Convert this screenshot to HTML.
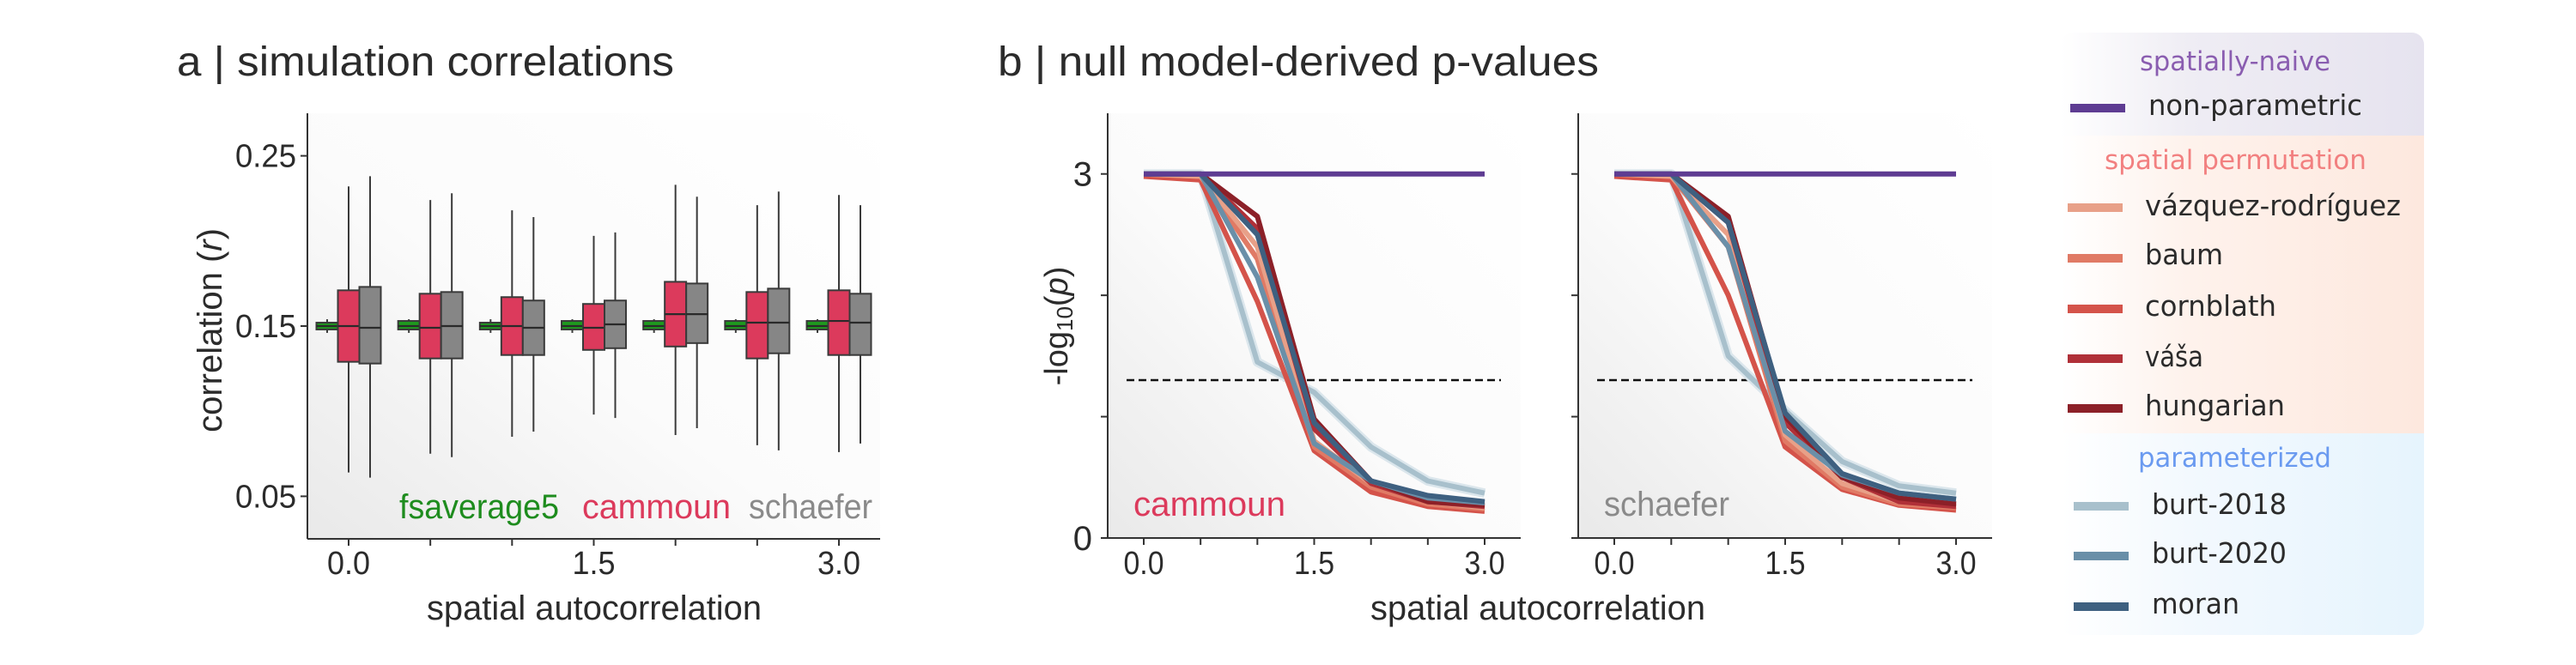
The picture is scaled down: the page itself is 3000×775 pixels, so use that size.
<!DOCTYPE html>
<html><head><meta charset="utf-8"><style>
html,body{margin:0;padding:0;background:#fff;}
svg{display:block;}
text{font-family:"Liberation Sans",sans-serif;fill:#2b2b2b;}
.leg{font-family:"DejaVu Sans","Liberation Sans",sans-serif;}
</style></head><body>
<svg id="fig" width="3000" height="775" viewBox="0 0 3000 775" xmlns="http://www.w3.org/2000/svg">
<defs>
<linearGradient id="axbg" x1="1" y1="0" x2="0" y2="1">
<stop offset="0" stop-color="#ffffff"/><stop offset="0.55" stop-color="#fbfbfb"/><stop offset="1" stop-color="#e9e9e9"/>
</linearGradient>
<linearGradient id="lgP" x1="0" y1="0" x2="1" y2="0"><stop offset="0" stop-color="#fff"/><stop offset="0.35" stop-color="#efedf4"/><stop offset="1" stop-color="#e6e3ef"/></linearGradient>
<linearGradient id="lgO" x1="0" y1="0" x2="1" y2="0"><stop offset="0" stop-color="#fff"/><stop offset="0.35" stop-color="#fef2ec"/><stop offset="1" stop-color="#fde8de"/></linearGradient>
<linearGradient id="lgB" x1="0" y1="0" x2="1" y2="0"><stop offset="0" stop-color="#fff"/><stop offset="0.35" stop-color="#f3f9fe"/><stop offset="1" stop-color="#e6f4fd"/></linearGradient>
<clipPath id="lgclip"><rect x="2400" y="38" width="423" height="702" rx="14"/></clipPath>
</defs>
<g id="pa"></g>
<g id="pb"></g>
<g id="legend"></g>
</svg>
<script>
const NS='http://www.w3.org/2000/svg';
// ---------- Panel A data ----------
const aGroups=[0,0.5,1.0,1.5,2.0,2.5,3.0];
const aYTicks=[0.05,0.15,0.25];
const aYTickLabels=['0.05','0.15','0.25'];
const aXTicks=[0,1.5,3.0];
const aXTickLabels=['0.0','1.5','3.0'];
// [low, q1, median, q3, high]
const fsavStats=[[0.146,0.148,0.150,0.152,0.154],[0.146,0.148,0.150,0.153,0.154],[0.146,0.148,0.150,0.152,0.154],[0.146,0.148,0.150,0.153,0.154],[0.146,0.148,0.150,0.153,0.154],[0.146,0.148,0.150,0.153,0.154],[0.146,0.148,0.150,0.153,0.154]];
const cammounStats=[[0.064,0.129,0.150,0.171,0.232],[0.075,0.131,0.149,0.169,0.224],[0.085,0.133,0.150,0.167,0.218],[0.098,0.136,0.149,0.163,0.203],[0.086,0.138,0.157,0.176,0.233],[0.080,0.131,0.152,0.170,0.221],[0.076,0.133,0.153,0.171,0.227]];
const schaeferStats=[[0.061,0.128,0.149,0.173,0.238],[0.073,0.131,0.150,0.170,0.228],[0.088,0.133,0.149,0.165,0.214],[0.096,0.137,0.151,0.165,0.205],[0.090,0.140,0.157,0.175,0.226],[0.077,0.134,0.152,0.172,0.229],[0.081,0.133,0.152,0.169,0.221]];
// ---------- Panel B data ----------
const bX=[0,0.5,1.0,1.5,2.0,2.5,3.0];
const bYTicks=[0,1,2,3];
const bYTickLabels=['0','','','3'];
const bXTicks=[0,0.5,1.0,1.5,2.0,2.5,3.0];
const bXTickLabels=['0.0','','','1.5','','','3.0'];
const threshold=1.301;
const methods=['non-parametric','vázquez-rodríguez','baum','cornblath','váša','hungarian','burt-2018','burt-2020','moran'];
const cammounP={
'non-parametric':[3,3,3,3,3,3,3],
'vázquez-rodríguez':[3,2.98,2.4,0.8,0.45,0.3,0.25],
'baum':[3,2.98,2.3,0.75,0.42,0.28,0.24],
'cornblath':[2.98,2.95,1.95,0.72,0.38,0.26,0.22],
'váša':[3,3,2.55,0.9,0.45,0.3,0.26],
'hungarian':[3,3,2.65,0.98,0.47,0.3,0.27],
'burt-2018':[3,3,1.45,1.2,0.75,0.47,0.37],
'burt-2020':[3,3,2.15,0.78,0.47,0.33,0.29],
'moran':[3,3,2.5,0.95,0.47,0.35,0.3]};
const schaeferP={
'non-parametric':[3,3,3,3,3,3,3],
'vázquez-rodríguez':[3,2.98,2.5,0.85,0.45,0.3,0.27],
'baum':[3,2.98,2.4,0.8,0.42,0.28,0.25],
'cornblath':[2.98,2.95,2.0,0.75,0.4,0.27,0.23],
'váša':[3,3,2.6,0.95,0.5,0.3,0.26],
'hungarian':[3,3,2.65,1.0,0.5,0.33,0.28],
'burt-2018':[3,3,1.5,1.05,0.63,0.43,0.37],
'burt-2020':[3,3,2.4,0.88,0.52,0.37,0.32],
'moran':[3,3,2.6,1.03,0.53,0.37,0.32]};
const colors={'non-parametric':'#5e3c92','vázquez-rodríguez':'#e8a088','baum':'#e07a65','cornblath':'#d4534a','váša':'#b03038','hungarian':'#8c2028','burt-2018':'#a8c0cc','burt-2020':'#6a8fa8','moran':'#3e6080'};
const drawOrder=['burt-2018','cornblath','baum','vázquez-rodríguez','váša','hungarian','burt-2020','moran','non-parametric'];

function el(parent,tag,attrs,text){const e=document.createElementNS(NS,tag);for(const k in attrs)e.setAttribute(k,attrs[k]);if(text!==undefined)e.textContent=text;parent.appendChild(e);return e;}
function slug(s){return s.normalize('NFD').replace(/[\u0300-\u036f]/g,'').replace(/[^a-z0-9]+/gi,'-').toLowerCase();}

// ---------- Panel A ----------
const pa=document.getElementById('pa');
const aL=358,aR=1025,aT=132,aB=628;
const ay=v=>aT+(0.275-v)/(0.275-0.025)*(aB-aT);
const ax=v=>406+(v-0)/(3.0)*(977-406);
let t;
t=el(pa,'text',{x:206,y:88,'font-size':48,textLength:579,lengthAdjust:'spacingAndGlyphs'},'a | simulation correlations');

t=el(pa,'rect',{x:aL,y:aT,width:aR-aL,height:aB-aT,fill:'url(#axbg)'});

const boxW=25;
function drawBox(g,cx,s,fill,name){
  const gg=el(g,'g',{});
  
  el(gg,'line',{x1:cx,x2:cx,y1:ay(s[4]),y2:ay(s[0]),stroke:'#3a3a3a','stroke-width':2});
  if(name.indexOf('fsaverage')===0){el(gg,'line',{x1:cx-5,x2:cx+5,y1:ay(s[4]),y2:ay(s[4]),stroke:'#3a3a3a','stroke-width':0});}
  el(gg,'rect',{x:cx-boxW/2,y:ay(s[3]),width:boxW,height:ay(s[1])-ay(s[3]),fill:fill,stroke:'#3a3a3a','stroke-width':2});
  el(gg,'line',{x1:cx-boxW/2,x2:cx+boxW/2,y1:ay(s[2]),y2:ay(s[2]),stroke:'#2a2a2a','stroke-width':2.2});
}
aGroups.forEach((gv,i)=>{
  const c=ax(gv);
  drawBox(pa,c-25,fsavStats[i],'#1e9a1e','fsaverage5-box-'+i);
  drawBox(pa,c,cammounStats[i],'#dc3a5c','cammoun-box-'+i);
  drawBox(pa,c+25,schaeferStats[i],'#868686','schaefer-box-'+i);
});
t=el(pa,'line',{x1:aL,x2:aL,y1:aT,y2:aB,stroke:'#333','stroke-width':2});

t=el(pa,'line',{x1:aL,x2:aR,y1:aB,y2:aB,stroke:'#333','stroke-width':2});

aYTicks.forEach((v,i)=>{
  el(pa,'line',{x1:aL-8,x2:aL,y1:ay(v),y2:ay(v),stroke:'#333','stroke-width':2});
  const tt=el(pa,'text',{x:345,y:ay(v)+13,'font-size':38,'text-anchor':'end',textLength:71,lengthAdjust:'spacingAndGlyphs'},aYTickLabels[i]);
  
});
aGroups.forEach(v=>{el(pa,'line',{x1:ax(v),x2:ax(v),y1:aB,y2:aB+8,stroke:'#333','stroke-width':2});});
aXTicks.forEach((v,i)=>{
  const tt=el(pa,'text',{x:ax(v),y:669,'font-size':38,'text-anchor':'middle',textLength:50,lengthAdjust:'spacingAndGlyphs'},aXTickLabels[i]);
  
});
t=el(pa,'text',{x:0,y:0,'font-size':40,'text-anchor':'middle',transform:'translate(258,385) rotate(-90)'});

t.appendChild(document.createTextNode('correlation ('));
el(t,'tspan',{'font-style':'italic'},'r');
t.appendChild(document.createTextNode(')'));
t=el(pa,'text',{x:497,y:722,'font-size':40,textLength:390,lengthAdjust:'spacingAndGlyphs'},'spatial autocorrelation');

t=el(pa,'text',{x:465,y:604,'font-size':40,fill:'#1e8c1e',style:'fill:#1e8c1e',textLength:186,lengthAdjust:'spacingAndGlyphs'},'fsaverage5');

t=el(pa,'text',{x:678,y:604,'font-size':40,style:'fill:#dc3a5c',textLength:173,lengthAdjust:'spacingAndGlyphs'},'cammoun');

t=el(pa,'text',{x:872,y:604,'font-size':40,style:'fill:#8a8a8a',textLength:144,lengthAdjust:'spacingAndGlyphs'},'schaefer');


// ---------- Panel B ----------
const pb=document.getElementById('pb');
t=el(pb,'text',{x:1162,y:88,'font-size':48,textLength:700,lengthAdjust:'spacingAndGlyphs'},'b | null model-derived p-values');

const bT=132,bB=627;
const by=v=>bB-v/3.5*(bB-bT);
function drawSub(name,L,R,x0,x3,data,label,labelColor,labelLen,showYLabels){
  const g=el(pb,'g',{});
  
  const bx=v=>x0+v/3*(x3-x0);
  el(g,'rect',{x:L,y:bT,width:R-L,height:bB-bT,fill:'url(#axbg)'});
  const thr=el(g,'line',{x1:L+22,x2:R-23,y1:by(threshold),y2:by(threshold),stroke:'#111','stroke-width':2.5,'stroke-dasharray':'9,5'});
  
  drawOrder.forEach(m=>{
    const pts=bX.map((x,i)=>bx(x).toFixed(1)+','+by(data[m][i]).toFixed(1)).join(' ');
    if(m==='burt-2018'){el(g,'polyline',{points:pts,fill:'none',stroke:'#dbe6ec','stroke-width':11,'stroke-linejoin':'round'});}
    const p=el(g,'polyline',{points:pts,fill:'none',stroke:colors[m],'stroke-width':6,'stroke-linejoin':'round'});
    
  });
  el(g,'line',{x1:L,x2:L,y1:bT,y2:bB,stroke:'#333','stroke-width':2});
  el(g,'line',{x1:L,x2:R,y1:bB,y2:bB,stroke:'#333','stroke-width':2});
  bYTicks.forEach((v,i)=>{
    el(g,'line',{x1:L-8,x2:L,y1:by(v),y2:by(v),stroke:'#333','stroke-width':2});
    if(showYLabels&&bYTickLabels[i]){const tt=el(g,'text',{x:L-18,y:by(v)+14,'font-size':40,'text-anchor':'end'},bYTickLabels[i]);
      }
  });
  bXTicks.forEach((v,i)=>{
    el(g,'line',{x1:bx(v),x2:bx(v),y1:bB,y2:bB+8,stroke:'#333','stroke-width':2});
    if(bXTickLabels[i]){const tt=el(g,'text',{x:bx(v),y:669,'font-size':38,'text-anchor':'middle',textLength:47,lengthAdjust:'spacingAndGlyphs'},bXTickLabels[i]);
      }
  });
  const lt=el(g,'text',{x:L+30,y:601,'font-size':40,style:'fill:'+labelColor,textLength:labelLen,lengthAdjust:'spacingAndGlyphs'},label);
  
}
drawSub('subplot-cammoun',1290,1771,1332,1729,cammounP,'cammoun','#dc3a5c',177,true);
drawSub('subplot-schaefer',1838,2320,1880,2278,schaeferP,'schaefer','#8a8a8a',146,false);
t=el(pb,'text',{x:0,y:0,'font-size':38,'text-anchor':'middle',transform:'translate(1243,380) rotate(-90)'});

t.appendChild(document.createTextNode('-log'));
el(t,'tspan',{'font-size':26,dy:6},'10');
el(t,'tspan',{dy:-6},'(');
el(t,'tspan',{'font-style':'italic'},'p');
t.appendChild(document.createTextNode(')'));
t=el(pb,'text',{x:1596,y:722,'font-size':40,textLength:390,lengthAdjust:'spacingAndGlyphs'},'spatial autocorrelation');


// ---------- Legend ----------
const lg=document.getElementById('legend');
const lgc=el(lg,'g',{'clip-path':'url(#lgclip)'});
el(lgc,'rect',{x:2400,y:38,width:423,height:120,fill:'url(#lgP)'});
el(lgc,'rect',{x:2400,y:158,width:423,height:347,fill:'url(#lgO)'});
el(lgc,'rect',{x:2400,y:505,width:423,height:235,fill:'url(#lgB)'});
const headers=[['spatially-naive',2492,82,222,'#8a5db0'],['spatial permutation',2451,197,305,'#f28080'],['parameterized',2490,544,225,'#6a9af0']];
headers.forEach(h=>{const tt=el(lg,'text',{class:'leg',x:h[1],y:h[2],'font-size':31,style:'fill:'+h[4],textLength:h[3],lengthAdjust:'spacingAndGlyphs'},h[0]);
  });
const rows=[['non-parametric',2411,126,2502,134,249],['vázquez-rodríguez',2408,242,2498,251,298],['baum',2408,301,2498,308,91],['cornblath',2408,360,2498,368,153],['váša',2408,418,2498,427,68],['hungarian',2408,476,2498,484,163],['burt-2018',2415,590,2506,599,157],['burt-2020',2415,648,2506,656,157],['moran',2415,707,2506,715,102]];
rows.forEach(r=>{
  const g=el(lg,'g',{});
  
  el(g,'line',{x1:r[1],x2:r[1]+64,y1:r[2],y2:r[2],stroke:colors[r[0]],'stroke-width':10});
  el(g,'text',{class:'leg',x:r[3],y:r[4],'font-size':33,textLength:r[5],lengthAdjust:'spacingAndGlyphs'},r[0]);
});
</script>
</body></html>
